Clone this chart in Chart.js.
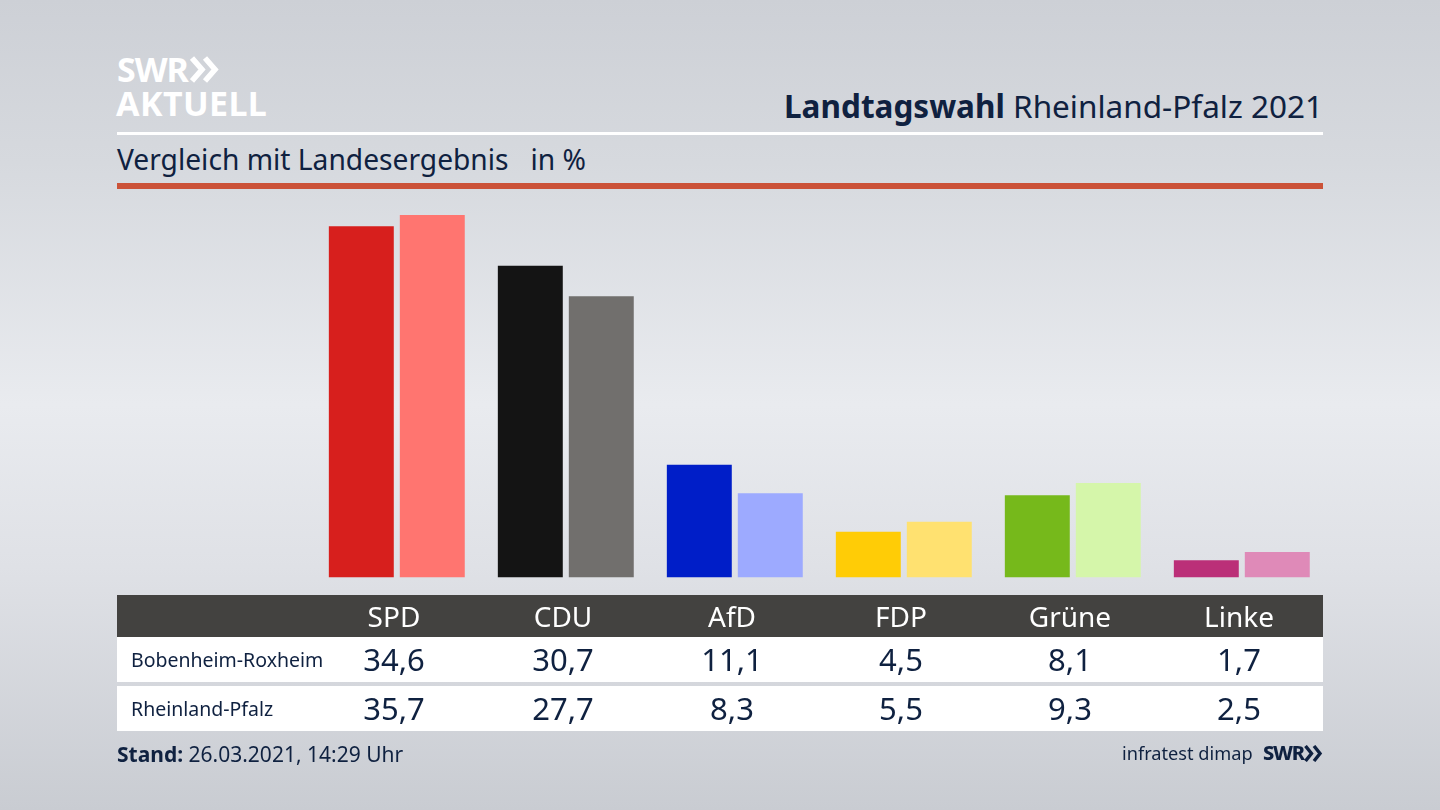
<!DOCTYPE html>
<html lang="de">
<head>
<meta charset="utf-8">
<title>Landtagswahl Rheinland-Pfalz 2021</title>
<script src="https://cdn.jsdelivr.net/npm/chart.js@4"></script>
<style>
  html, body { margin: 0; padding: 0; }
  body {
    width: 1440px; height: 810px; position: relative; overflow: hidden;
    background: linear-gradient(180deg, #cdd0d6 0%, #d6d9de 20%, #e9ebef 50%, #dfe1e6 70%, #c9ccd2 100%);
    font-family: "Noto Sans", sans-serif; color: #0f2140;
  }
  .abs { position: absolute; white-space: nowrap; }
  #chartBox { position: absolute; left: 0; top: 0; width: 1440px; height: 810px; }
  .logo { font-weight: 700; color: #fff; letter-spacing: -0.5px; }
  .row { position: absolute; left: 117px; width: 1206px; background: #fff; }
  .head { background: #434240; }
  .rowName { position: absolute; left: 14px; font-size: 19.5px; white-space: nowrap; }
  .cell { position: absolute; width: 169px; text-align: center; }
</style>
</head>
<body>
  <div class="abs logo" style="left:117px;top:47px;font-size:34px;line-height:44px;letter-spacing:-1px;">SWR</div>
  <svg class="abs" style="left:190px;top:56px" width="32" height="28" viewBox="0 0 32 28">
    <polyline points="2,2 12,13.5 2,25" fill="none" stroke="#fff" stroke-width="5.5"/>
    <polyline points="15,2 25,13.5 15,25" fill="none" stroke="#fff" stroke-width="5.5"/>
  </svg>
  <div class="abs logo" style="left:116px;top:80px;font-size:34px;line-height:46px;letter-spacing:0.4px;">AKTUELL</div>

  <div class="abs" style="right:117px;top:84px;font-size:31.5px;line-height:44px;"><b>Landtagswahl</b> Rheinland-Pfalz 2021</div>
  <div class="abs" style="left:117px;top:132px;width:1206px;height:3px;background:#fff;"></div>
  <div class="abs" style="left:117px;top:139px;font-size:28.2px;line-height:40px;">Vergleich mit Landesergebnis &nbsp; in %</div>
  <div class="abs" style="left:117px;top:183px;width:1206px;height:6px;background:#cb5238;"></div>

  <div id="chartBox"><canvas id="myChart" width="1440" height="810"></canvas></div>

  <div id="table"></div>

  <div class="abs" style="left:117px;top:738px;font-size:21px;line-height:32px;"><b>Stand:</b> 26.03.2021, 14:29 Uhr</div>
  <div class="abs" style="left:1122px;top:738px;font-size:18.2px;line-height:30px;">infratest dimap</div>
  <div class="abs" style="left:1263px;top:738px;font-size:20px;line-height:30px;font-weight:800;letter-spacing:-1.2px;">SWR</div>
  <svg class="abs" style="left:1304px;top:745px" width="20" height="17" viewBox="0 0 20 17">
    <polyline points="1.5,1 7.5,8.5 1.5,16" fill="none" stroke="#0f2140" stroke-width="3.4"/>
    <polyline points="10,1 16,8.5 10,16" fill="none" stroke="#0f2140" stroke-width="3.4"/>
  </svg>

<script>
// Data
const parties = ["SPD", "CDU", "AfD", "FDP", "Grüne", "Linke"];
const localName = "Bobenheim-Roxheim";
const stateName = "Rheinland-Pfalz";
const localValues = [34.6, 30.7, 11.1, 4.5, 8.1, 1.7];
const stateValues = [35.7, 27.7, 8.3, 5.5, 9.3, 2.5];
const localColors = ["#d71f1d", "#141414", "#001ec8", "#ffcc06", "#76b91b", "#bb2f78"];
const stateColors = ["#ff7570", "#716f6d", "#9daaff", "#ffe170", "#d5f6aa", "#df8ab8"];

const fmt = (v) => v.toFixed(1).replace(".", ",");

// Table below the chart
const table = document.getElementById("table");
const addRow = (top, height, cls, name, labels, fontSize, color) => {
  const row = document.createElement("div");
  row.className = "row " + cls;
  row.style.top = top + "px";
  row.style.height = height + "px";
  if (name) {
    const n = document.createElement("div");
    n.className = "rowName";
    n.textContent = name;
    n.style.top = "0";
    n.style.lineHeight = height + "px";
    row.appendChild(n);
  }
  labels.forEach((text, i) => {
    const c = document.createElement("div");
    c.className = "cell";
    c.textContent = text;
    c.style.left = (192.5 + i * 169) + "px";
    c.style.fontSize = fontSize + "px";
    c.style.lineHeight = height + "px";
    c.style.color = color;
    row.appendChild(c);
  });
  table.appendChild(row);
};
addRow(595, 42, "head", "", parties, 28, "#fff");
addRow(637, 45, "", localName, localValues.map(fmt), 31, "#0f2140");
addRow(686, 45, "", stateName, stateValues.map(fmt), 31, "#0f2140");

const createChart = () => {
  const ctx = document.getElementById("myChart").getContext("2d");
  new Chart(ctx, {
    type: "bar",
    data: {
      labels: parties,
      datasets: [
        { label: localName, data: localValues, backgroundColor: localColors },
        { label: stateName, data: stateValues, backgroundColor: stateColors },
      ],
    },
    options: {
      responsive: false,
      animation: false,
      layout: { padding: { left: 312.3, right: 113.7, top: 212, bottom: 232.5 } },
      categoryPercentage: 0.84,
      barPercentage: 0.915,
      plugins: { legend: { display: false }, tooltip: { enabled: false } },
      scales: {
        x: { display: false },
        y: { display: false, min: 0, max: 36 },
      },
    },
  });
};

document.addEventListener("DOMContentLoaded", createChart);
</script>
</body>
</html>
